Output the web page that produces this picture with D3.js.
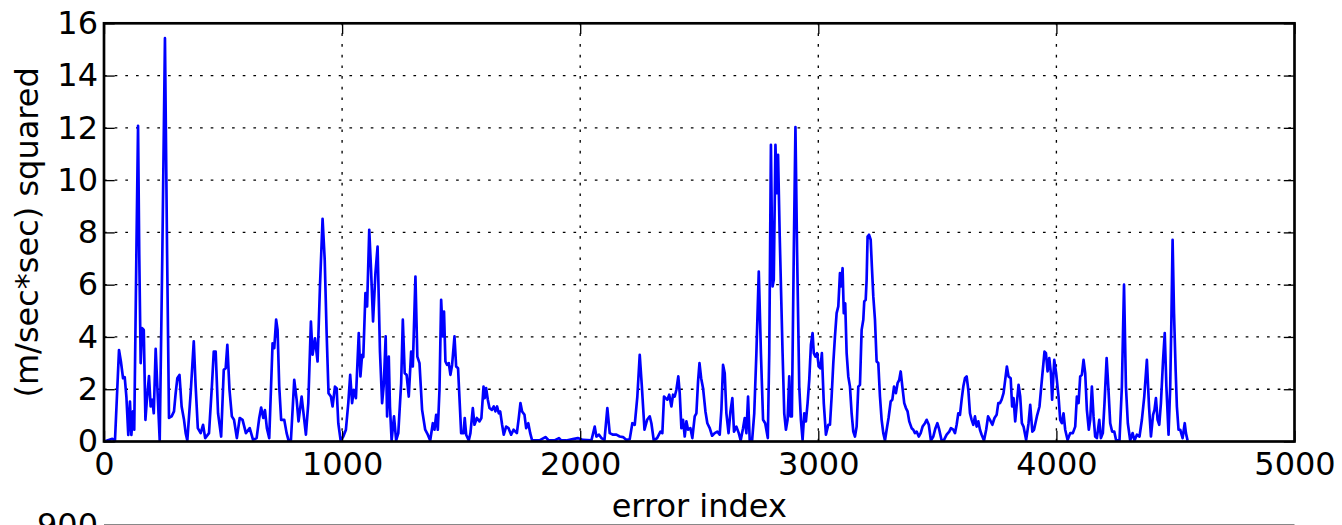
<!DOCTYPE html>
<html>
<head>
<meta charset="utf-8">
<script src="https://cdn.jsdelivr.net/npm/d3@7"></script>
<style>
  body { margin: 0; background: #fff; }
  svg { display: block; }
  text { font-family: "DejaVu Sans", sans-serif; }
</style>
</head>
<body>
<script>
// error index (x) and squared error in (m/sec*sec) squared (y)
var errorIndex = [0,7,35,46,63,71,80,87,94,102,109,115,122,127,136,143,148,154,160,167,174,179,189,196,203,209,217,224,234,245,256,265,273,284,294,301,308,317,326,336,343,350,364,377,385,394,406,416,425,441,453,461,469,479,492,503,511,518,527,537,546,558,570,582,596,612,626,641,652,660,669,676,684,694,708,715,723,729,736,744,757,767,775,785,
  799,809,817,830,837,848,858,869,876,886,897,907,918,927,935,943,953,960,970,977,984,994,1005,1016,1026,1034,1042,1049,1058,1070,1077,1084,1089,1098,1105,1114,1121,1130,1140,1149,1159,1168,1175,1183,1189,1196,1201,1208,1218,1227,1236,1248,1255,1263,1271,1280,1290,1297,1308,1316,1325,1336,1349,1360,1370,1381,1388,1395,1402,1409,1416,1423,1428,1434,1441,1448,1455,1462,1472,1479,1487,
  1500,1510,1515,1521,1532,1539,1549,1556,1566,1577,1585,1594,1599,1605,1612,1619,1629,1637,1644,1651,1658,1664,1672,1679,1689,1699,1710,1720,1734,1742,1749,1756,1766,1773,1782,1790,1798,1829,1854,1868,1892,1911,1920,1941,1969,1990,2012,2047,2061,2068,2079,2089,2102,2114,2124,2138,2152,2166,2180,2194,2208,2219,2229,2240,2250,
  2259,2270,2281,2292,2299,2309,2323,2337,2345,2352,2359,2366,2374,2383,2390,2397,2404,2412,2418,2425,2432,2439,2446,2453,2463,2471,2481,2488,2495,2501,2508,2516,2526,2534,2544,2554,2565,2576,2586,2593,2600,2607,2614,2623,2631,2639,2646,2656,2666,2674,2684,2691,2698,2705,2712,2722,2731,2740,2750,2759,2768,2777,2788,2794,2801,2808,2813,2820,2826,2831,2838,2850,2857,2864,2871,2878,2883,2889,2897,2904,2911,2920,2927,2934,2941,2948,2955,2962,2969,2976,2981,2988,2995,3002,3009,3015,3023,
  3032,3042,3049,3056,3063,3070,3077,3084,3091,3096,3102,3107,3113,3119,3126,3133,3140,3147,3154,3161,3168,3175,3182,3189,3193,3199,3203,3207,3213,3220,3225,3231,3238,3245,3252,3259,3266,3273,3280,3287,3295,3304,3311,3318,3326,3333,3340,3346,3353,3361,3368,3375,3382,3392,3399,3406,3413,3422,3430,3438,3448,3455,3464,3473,3483,3492,3500,3508,3518,3528,3539,3550,3557,3567,3574,3581,3588,3595,3602,3609,3616,3623,3630,3637,3644,3651,3658,3665,3672,3679,3686,3696,3705,3713,3721,3731,3740,3749,3756,3763,3770,3778,3785,3792,
  3799,3808,3814,3820,3827,3841,3848,3855,3862,3873,3883,3890,3899,3906,3918,3929,3939,3950,3956,3963,3970,3977,3982,3991,3999,4009,4016,4023,4030,4037,4047,4058,4069,4079,4086,4093,4100,4107,4114,4121,4128,4136,4142,4149,4156,4163,4170,4180,4187,4195,4202,4211,4218,4226,4234,4243,4251,4265,4275,4284,4292,4300,4310,4320,4328,4338,4349,4359,4369,4380,4389,4397,4406,4412,4418,4425,4432,4439,4448,4455,4462,4471,4478,4483,4488,4494,4501,4506,4513,4520,4530,4539,4544,4551];

var sqError = [0,0.02,0.1,0.02,3.5,3.06,2.42,2.46,1.72,0.25,1.53,0.25,1.15,0.45,7.2,12.08,7.2,3.0,4.34,4.27,0.83,1.47,2.5,1.34,1.6,1.08,3.55,2.1,0.04,7.2,15.43,7.2,0.9,0.96,1.15,1.85,2.42,2.55,1.34,0.83,0.32,0.04,1.85,3.83,2.1,0.51,0.32,0.64,0.13,0.32,2.1,3.44,3.44,1.08,0.19,2.74,2.8,3.7,1.98,0.96,0.83,0.13,0.9,0.83,0.32,0.51,0.06,0.13,0.9,1.3,0.9,1.2,0.51,0.13,3.76,3.57,4.66,4.27,2.1,0.83,0.83,0.32,0.04,0.04,
  2.36,1.6,0.77,1.72,1.15,0.26,1.47,4.59,3.32,3.95,3.06,5.93,8.52,6.95,4.15,1.85,1.72,1.34,2.1,2.04,0.7,0.04,0.19,0.45,1.47,2.55,1.47,1.98,1.66,4.15,2.49,3.32,3.23,5.68,5.17,8.1,6.7,4.59,6.44,7.46,3.44,1.47,2.17,4.02,0.96,3.25,1.34,0.04,0.96,0.04,0.32,2.23,4.66,2.61,2.55,1.72,3.44,2.87,6.31,3.25,3.0,1.21,0.45,0.26,0.04,0.7,0.45,1.02,0.45,1.98,5.42,4.02,4.97,3.06,2.93,3.0,2.55,2.93,4.02,2.87,2.8,
  0.32,0.32,0.9,0.26,0.04,0.32,1.28,0.64,0.9,0.77,0.9,2.1,1.66,2.04,1.6,1.28,1.21,1.34,1.15,1.34,1.08,1.15,0.64,0.26,0.57,0.51,0.26,0.45,0.32,0.9,1.47,1.15,1.02,0.51,0.7,0.32,0.04,0.04,0.17,0.04,0.04,0.13,0.04,0.04,0.09,0.13,0.06,0.04,0.57,0.19,0.26,0.13,0.06,1.28,0.32,0.26,0.26,0.19,0.17,0.06,0.09,0.7,0.64,1.72,3.32,
  2.1,0.45,0.83,0.96,0.7,0.04,0.13,0.38,0.32,1.72,1.66,1.6,1.79,1.34,1.79,1.72,1.98,2.49,1.85,0.51,0.83,0.19,0.77,0.45,0.51,0.13,0.96,1.08,2.3,3.0,2.42,2.04,1.15,0.7,0.51,0.22,0.32,0.38,0.26,1.21,2.93,2.61,1.08,0.32,1.15,1.66,0.38,0.57,0.32,0.04,0.51,0.9,0.32,1.72,0.04,0.04,1.08,3.38,6.5,3.38,0.83,0.7,0.13,3.38,11.35,5.93,6.19,11.35,9.5,10.97,7.84,3.38,1.08,0.45,0.83,2.49,0.96,0.96,7.2,12.03,7.2,2.1,0.83,0.06,1.08,0.77,1.47,2.36,3.7,4.15,3.38,3.25,3.38,2.87,2.8,3.38,1.47,
  0.26,0.64,0.64,1.72,3.0,4.02,4.91,5.17,6.44,5.93,6.63,4.91,5.29,3.38,2.49,2.1,1.08,0.38,0.19,0.57,2.1,2.17,4.27,4.66,5.36,5.42,6.19,7.84,7.91,7.72,6.7,5.55,4.66,3.06,3.0,1.72,0.83,0.32,0.04,0.45,0.9,1.53,1.6,2.1,1.85,2.23,2.36,2.68,2.1,1.47,1.28,1.15,0.77,0.51,0.45,0.32,0.38,0.19,0.32,0.57,0.7,0.83,0.64,0.04,0.19,0.51,0.7,0.45,0.04,0.06,0.26,0.38,0.51,0.45,0.32,0.64,1.08,1.02,1.6,2.1,2.42,2.49,1.98,1.08,0.83,0.64,0.96,0.57,0.77,0.45,0.26,0.04,0.45,0.96,0.83,0.64,0.9,1.02,1.47,1.47,1.6,1.85,2.36,2.87,
  2.49,2.42,1.34,1.66,0.77,2.17,1.72,0.7,0.57,0.06,0.7,1.4,0.38,0.45,0.96,1.34,2.36,3.44,3.38,2.68,3.19,2.61,1.6,3.12,2.61,1.72,0.83,0.7,1.08,0.45,0.06,0.32,0.32,0.57,1.72,1.47,2.49,2.55,3.12,2.61,1.21,0.45,0.83,2.1,0.96,0.19,0.13,0.83,0.13,0.32,1.47,3.19,2.1,0.7,0.38,0.38,0.04,0.04,2.1,6.0,2.1,0.7,0.04,0.32,0.04,0.26,0.19,0.83,1.72,3.12,1.34,0.19,1.02,1.21,1.66,0.83,0.64,1.47,3.12,4.15,2.1,0.26,2.1,4.66,7.72,4.91,2.68,1.34,0.45,0.45,0.13,0.7,0.32,0.04];

var xTicks = [0, 1000, 2000, 3000, 4000, 5000];
var yTicks = [0, 2, 4, 6, 8, 10, 12, 14, 16];
var xLabel = "error index";
var yLabel = "(m/sec*sec) squared";
var nextAxisTopLabel = "900";

function chart() {
  var width = 1342, height = 525;
  var pl = 104, pr = 1294.5, pt = 23.3, pb = 441.5;
  var tick = 10.7;

  var x = d3.scaleLinear().domain([0, 5000]).range([pl, pr]);
  var y = d3.scaleLinear().domain([0, 16]).range([pb, pt]);

  var svg = d3.select("body").append("svg")
      .attr("width", width)
      .attr("height", height);

  // grid
  var grid = svg.append("g")
      .attr("stroke", "#000")
      .attr("stroke-width", 1.33)
      .attr("stroke-dasharray", "2.67,8");
  grid.selectAll(".gx")
    .data(xTicks.slice(1, -1))
    .join("line")
      .attr("x1", d => x(d)).attr("x2", d => x(d))
      .attr("y1", pb).attr("y2", pt);
  grid.selectAll(".gy")
    .data(yTicks.slice(1, -1))
    .join("line")
      .attr("y1", d => y(d)).attr("y2", d => y(d))
      .attr("x1", pl).attr("x2", pr);

  // data line
  var pts = errorIndex.map((d, i) => [d, sqError[i]]);
  var line = d3.line()
      .x(d => x(d[0]))
      .y(d => y(d[1]));

  svg.append("path")
      .datum(pts)
      .attr("fill", "none")
      .attr("stroke", "#0000ff")
      .attr("stroke-width", 2.67)
      .attr("stroke-linejoin", "round")
      .attr("d", line);

  // axes (ticks inside, on all four sides)
  function styleAxis(g) {
    g.select(".domain").remove();
    g.selectAll(".tick line").attr("stroke", "#000").attr("stroke-width", 1.33);
    g.selectAll(".tick text").attr("fill", "#000").style("font-size", "32px")
      .style("font-family", "'DejaVu Sans', sans-serif");
  }

  svg.append("g")
      .attr("transform", `translate(0,${pb})`)
      .call(d3.axisBottom(x).tickValues(xTicks).tickSizeInner(-tick).tickSizeOuter(0).tickPadding(11).tickFormat(d3.format("d")))
      .call(styleAxis);
  svg.append("g")
      .attr("transform", `translate(0,${pt})`)
      .call(d3.axisTop(x).tickValues(xTicks).tickSizeInner(-tick).tickSizeOuter(0).tickFormat(""))
      .call(styleAxis);
  svg.append("g")
      .attr("transform", `translate(${pl},0)`)
      .call(d3.axisLeft(y).tickValues(yTicks).tickSizeInner(-tick).tickSizeOuter(0).tickPadding(6).tickFormat(d3.format("d")))
      .call(styleAxis);
  svg.append("g")
      .attr("transform", `translate(${pr},0)`)
      .call(d3.axisRight(y).tickValues(yTicks).tickSizeInner(-tick).tickSizeOuter(0).tickFormat(""))
      .call(styleAxis);

  // frame
  svg.append("rect")
      .attr("x", pl).attr("y", pt)
      .attr("width", pr - pl).attr("height", pb - pt)
      .attr("fill", "none")
      .attr("stroke", "#000")
      .attr("stroke-width", 2.67);

  // axis labels
  svg.append("text")
      .attr("x", (pl + pr) / 2)
      .attr("y", 517)
      .attr("text-anchor", "middle")
      .style("font-size", "32px")
      .text(xLabel);

  svg.append("text")
      .attr("transform", `translate(38,${(pt + pb) / 2}) rotate(-90)`)
      .attr("text-anchor", "middle")
      .style("font-size", "32px")
      .text(yLabel);

  // top edge of the next subplot, cut off by the page
  svg.append("line")
      .attr("x1", pl).attr("x2", pr)
      .attr("y1", 524.6).attr("y2", 524.6)
      .attr("stroke", "#888")
      .attr("stroke-width", 1.3);
  svg.append("text")
      .attr("x", 98)
      .attr("y", 536)
      .attr("text-anchor", "end")
      .style("font-size", "32px")
      .text(nextAxisTopLabel);
}

chart();
</script>
</body>
</html>
